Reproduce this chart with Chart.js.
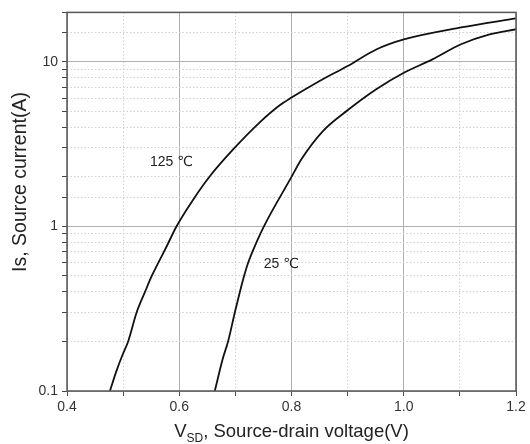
<!DOCTYPE html>
<html>
<head>
<meta charset="utf-8">
<script src="https://cdn.jsdelivr.net/npm/chart.js@4.4.1/dist/chart.umd.min.js"></script>
<style>
  html, body { margin: 0; padding: 0; background: #fff; }
  #wrap { width: 530px; height: 444px; }
</style>
</head>
<body>
<div id="wrap"><canvas id="diodeChart"></canvas></div>
<script>
// Body diode forward characteristic, Is vs V_SD
const vsd125 = [0.4765, 0.488, 0.499, 0.509, 0.524, 0.539, 0.551, 0.5625, 0.577, 0.595, 0.625, 0.6545, 0.696, 0.743, 0.779, 0.800, 0.850, 0.900, 0.951, 1.000, 1.102, 1.200];
const is125  = [0.10, 0.132, 0.166, 0.20, 0.30, 0.40, 0.50, 0.60, 0.75, 1.00, 1.46, 2.02, 2.94, 4.28, 5.45, 6.07, 7.66, 9.45, 11.9, 13.7, 16.2, 18.4];

const vsd25 = [0.6633, 0.678, 0.687, 0.699, 0.708, 0.7155, 0.7226, 0.7375, 0.752, 0.800, 0.8176, 0.856, 0.9005, 0.951, 1.001, 1.052, 1.102, 1.153, 1.200];
const is25  = [0.10, 0.159, 0.20, 0.30, 0.40, 0.50, 0.60, 0.80, 1.02, 2.00, 2.56, 3.80, 5.10, 6.82, 8.62, 10.4, 12.8, 14.7, 15.8];

// curve labels
const noteText = ["125 \u2103", "25 \u2103"];
const noteX = [0.586, 0.782];
const noteY = [2.45, 0.587];

const xMin = 0.4, xMax = 1.2, xStep = 0.1;
const yMin = 0.1, yMax = 20;

const FONT = "'Liberation Sans', Arial, 'DejaVu Sans', sans-serif";
Chart.defaults.font.family = FONT;
Chart.defaults.color = "#333";

function toPoints(xs, ys) {
  return xs.map((x, i) => ({ x: x, y: ys[i] }));
}

function isMajorY(v) {
  const l = Math.log10(v);
  return Math.abs(l - Math.round(l)) < 1e-6;
}
function isMajorX(v) {
  return Math.round(v * 10) % 2 === 0;
}

// frame, curve labels and both axis titles (x title has a subscript)
const extras = {
  id: "extras",
  afterDatasetsDraw(chart) {
    const { ctx, chartArea: a, scales } = chart;
    ctx.save();
    ctx.strokeStyle = "#555";
    ctx.lineWidth = 1.5;
    ctx.strokeRect(a.left, a.top, a.right - a.left, a.bottom - a.top);

    ctx.fillStyle = "#222";
    ctx.font = "14px " + FONT;
    ctx.textAlign = "center";
    ctx.textBaseline = "middle";
    noteText.forEach((t, i) => {
      ctx.fillText(t, scales.x.getPixelForValue(noteX[i]), scales.y.getPixelForValue(noteY[i]));
    });
    ctx.restore();
  },
  afterDraw(chart) {
    const { ctx, chartArea: a } = chart;
    const big = "18.5px " + FONT, small = "12px " + FONT;
    const p1 = "V", p2 = "SD", p3 = ", Source-drain voltage(V)";
    ctx.save();
    ctx.fillStyle = "#222";
    ctx.textBaseline = "alphabetic";
    ctx.font = big; const w1 = ctx.measureText(p1).width, w3 = ctx.measureText(p3).width;
    ctx.font = small; const w2 = ctx.measureText(p2).width;
    let x = (a.left + a.right) / 2 - (w1 + w2 + w3) / 2;
    const base = 437;
    ctx.font = big; ctx.textAlign = "left";
    ctx.fillText(p1, x, base); x += w1;
    ctx.font = small; ctx.fillText(p2, x, base + 5); x += w2;
    ctx.font = big; ctx.fillText(p3, x, base);

    // y title
    ctx.translate(21, 182);
    ctx.rotate(-Math.PI / 2);
    ctx.font = "19.5px " + FONT;
    ctx.textAlign = "center";
    ctx.textBaseline = "middle";
    ctx.fillText("Is, Source current(A)", 0, 0);
    ctx.restore();
  }
};

const ctx = document.getElementById("diodeChart").getContext("2d");
const diodeChart = new Chart(ctx, {
  type: "scatter",
  data: {
    datasets: [
      {
        label: "125 \u2103",
        data: toPoints(vsd125, is125),
        showLine: true,
        borderColor: "#111",
        borderWidth: 1.8,
        pointRadius: 0,
        cubicInterpolationMode: "monotone",
      },
      {
        label: "25 \u2103",
        data: toPoints(vsd25, is25),
        showLine: true,
        borderColor: "#111",
        borderWidth: 1.8,
        pointRadius: 0,
        cubicInterpolationMode: "monotone",
      },
    ],
  },
  options: {
    responsive: true,
    maintainAspectRatio: false,
    animation: false,
    layout: { padding: { left: 0, right: 14, top: 12, bottom: 0 } },
    plugins: { legend: { display: false }, tooltip: { enabled: false } },
    scales: {
      x: {
        type: "linear",
        min: xMin,
        max: xMax,
        afterFit(s) { s.height = 53; },
        ticks: {
          stepSize: xStep,
          autoSkip: false,
          maxRotation: 0,
          padding: 3,
          color: "#333",
          font: { size: 14 },
          callback: (v) => (isMajorX(v) ? v.toFixed(1) : ""),
        },
        grid: {
          color: (c) => (c.tick && isMajorX(c.tick.value) ? "#b0b0b0" : "#d0d0d0"),
          lineWidth: 1,
          tickLength: 5,
          tickColor: "#444",
        },
        border: {
          display: false,
          dash: (c) => (c.tick && !isMajorX(c.tick.value) ? [1.5, 2] : []),
        },
      },
      y: {
        type: "logarithmic",
        min: yMin,
        max: yMax,
        afterFit(s) { s.width = 67; },
        ticks: {
          autoSkip: false,
          padding: 4,
          color: "#333",
          font: { size: 14 },
          callback: (v) => (isMajorY(v) ? String(Number(v)) : ""),
        },
        grid: {
          color: (c) => (c.tick && isMajorY(c.tick.value) ? "#b0b0b0" : "#d0d0d0"),
          lineWidth: 1,
          tickLength: 5,
          tickColor: "#444",
        },
        border: {
          display: false,
          dash: (c) => (c.tick && !isMajorY(c.tick.value) ? [1.5, 2] : []),
        },
      },
    },
  },
  plugins: [extras],
});
</script>
</body>
</html>
